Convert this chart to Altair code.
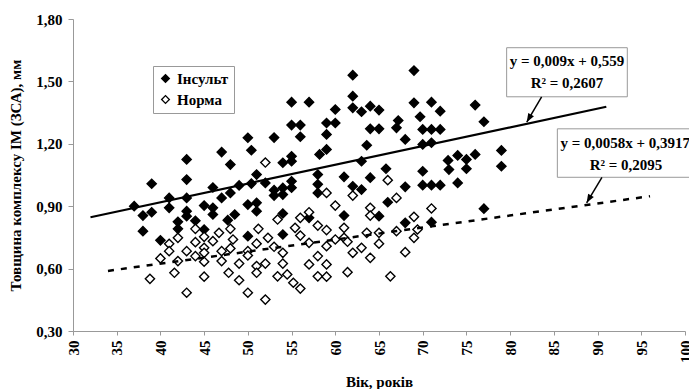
import altair as alt
import pandas as pd

# ---- data ----
insult_age = [55, 57, 55, 56, 56, 50, 53, 50.4, 47, 43, 48, 55, 55, 54, 51, 43, 39, 46, 49, 50.4,
              52, 55, 55, 53, 53, 54, 54, 58, 58, 58, 58.2, 47, 48, 41, 43,
              62, 69, 62, 62, 63, 64, 65, 60, 59, 60, 59, 64, 65, 67.2, 67, 69, 71, 72, 69.7,
              70, 71, 72, 76, 77, 68, 63.6, 70, 71, 59, 63, 65.8, 70, 72.9, 74, 75, 76, 73, 75,
              79, 79, 74, 70, 71, 72, 68, 64, 61, 62, 63,
              37, 38, 39, 38, 41, 43, 43, 42, 42, 40, 44, 45, 46, 46, 47.7, 48.5, 45, 50, 51, 51,
              50, 54, 54, 57,
              61, 65, 66, 68, 71, 77]
insult_val = [1.40, 1.40, 1.29, 1.29, 1.234, 1.229, 1.23, 1.169, 1.16, 1.125, 1.10, 1.14, 1.116, 1.109,
              1.052, 1.028, 1.008, 0.99, 1.0, 1.009, 1.012, 1.02, 0.989, 0.977, 0.951, 0.988, 0.956,
              1.052, 1.005, 0.964, 1.149, 0.94, 0.964, 0.94, 0.94,
              1.53, 1.552, 1.429, 1.373, 1.354, 1.381, 1.362, 1.365, 1.30, 1.30, 1.245, 1.272, 1.272,
              1.312, 1.277, 1.397, 1.40, 1.357, 1.33, 1.269, 1.269, 1.269, 1.386, 1.306, 1.221, 1.193,
              1.197, 1.205, 1.173, 1.116, 1.08, 1.068, 1.12, 1.144, 1.125, 1.149, 1.076, 1.08,
              1.168, 1.092, 1.012, 1.001, 1.001, 1.001, 0.993, 1.037, 1.041, 0.996, 0.98,
              0.90, 0.855, 0.871, 0.78, 0.892, 0.876, 0.852, 0.825, 0.791, 0.736, 0.83, 0.903, 0.892,
              0.86, 0.833, 0.86, 0.788, 0.908, 0.916, 0.876, 0.756, 0.865, 0.764, 0.844,
              0.855, 0.852, 0.919, 0.82, 0.823, 0.888]

norma_age = [52, 59, 62, 66, 67,
             38.8, 40, 41, 41, 42, 42, 41.6, 43, 43, 44, 44, 44, 45, 45, 45, 45, 45, 46, 46.7,
             47, 47, 47.8, 48, 48.3, 48, 49, 49, 50, 50, 50, 51.2, 51, 51, 51, 52, 52, 52.3, 53,
             53.4, 53.4, 54, 54, 54.5, 55.2, 56, 55.4, 56, 56, 57, 57, 57, 58, 58, 58,
             59, 60, 61, 61, 60, 59, 59, 59, 61.4, 62, 61.4, 63, 64, 63.6, 64, 64, 65, 65,
             66.3, 67, 68, 69, 69, 69.4, 71]
norma_val = [1.11, 0.964, 0.951, 1.025, 0.94,
             0.551, 0.649, 0.719, 0.684, 0.748, 0.636, 0.58, 0.684, 0.484, 0.791, 0.727, 0.66,
             0.753, 0.70, 0.676, 0.633, 0.561, 0.732, 0.772, 0.684, 0.636, 0.58, 0.791, 0.74,
             0.697, 0.624, 0.544, 0.684, 0.663, 0.484, 0.791, 0.72, 0.612, 0.58, 0.624, 0.451,
             0.748, 0.705, 0.836, 0.563, 0.676, 0.624, 0.572, 0.532, 0.504, 0.796, 0.759, 0.844,
             0.871, 0.724, 0.62, 0.807, 0.66, 0.563,
             0.785, 0.903, 0.796, 0.748, 0.74, 0.708, 0.62, 0.561, 0.729, 0.676, 0.583, 0.70,
             0.652, 0.772, 0.892, 0.855, 0.772, 0.72, 0.563, 0.78, 0.679, 0.849, 0.748, 0.788,
             0.889]

series_names = ["Інсульт", "Норма"]

# trend line end points
solid_x = [32, 91]
solid_y = [0.847, 1.378]
dash_x = [34, 96]
dash_y = [0.589, 0.948]

# annotation boxes (data coordinates)
box_x1 = [79.6, 85.4]
box_x2 = [93.4, 102.5]
box_y1 = [1.662, 1.272]
box_y2 = [1.426, 1.039]
eq_text = ["y = 0,009x + 0,559", "R² = 0,2607", "y = 0,0058x + 0,3917", "R² = 0,2095"]
eq_x = [86.5, 86.5, 85.75, 93.25]
eq_y = [1.596, 1.492, 1.206, 1.100]
eq_align = ["center", "center", "left", "center"]
arrow_x1 = [83.6, 90.5]
arrow_y1 = [1.426, 1.039]
arrow_x2 = [81.9, 88.75]
arrow_y2 = [1.304, 0.916]

x_ticks = list(range(30, 101, 5))
y_ticks = [0.3, 0.6, 0.9, 1.2, 1.5, 1.8]

FONT = "Liberation Serif"
FS = 15

pts = pd.DataFrame({
    "age": insult_age + norma_age,
    "val": insult_val + norma_val,
    "series": [series_names[0]] * len(insult_age) + [series_names[1]] * len(norma_age),
})
lines = pd.DataFrame({
    "age": solid_x + dash_x,
    "val": solid_y + dash_y,
    "kind": ["solid"] * 2 + ["dash"] * 2,
})
boxes = pd.DataFrame({"x1": box_x1, "x2": box_x2, "y1": box_y1, "y2": box_y2})
texts = pd.DataFrame({"age": eq_x, "val": eq_y, "t": eq_text, "al": eq_align})
arrows = pd.DataFrame({"age": arrow_x1, "val": arrow_y1, "ax": arrow_x2, "ay": arrow_y2})

xs = alt.Scale(domain=[30, 100], nice=False, zero=False)
ys = alt.Scale(domain=[0.3, 1.8], nice=False, zero=False)

x_axis = alt.Axis(values=x_ticks, labelAngle=270, tickSize=4, labelPadding=5, grid=False,
                  domainColor="#999999", tickColor="#999999", labelFont=FONT, labelFontSize=FS,
                  labelFontWeight="bold", labelColor="black", title="Вік, років",
                  titleFont=FONT, titleFontSize=FS, titleFontWeight="bold", titleColor="black",
                  titleY=50, titleBaseline="middle")
y_axis = alt.Axis(values=y_ticks, labelExpr="replace(format(datum.value, '.2f'), '.', ',')",
                  tickSize=5, labelPadding=6, grid=False,
                  domainColor="#999999", tickColor="#999999", labelFont=FONT, labelFontSize=FS,
                  labelFontWeight="bold", labelColor="black",
                  title="Товщина комплексу ІМ (ЗСА), мм", titleFont=FONT, titleFontSize=FS,
                  titleFontWeight="bold", titleColor="black", titleX=-58, titleY=156,
                  titleAngle=270, titleBaseline="middle", titleAlign="center")

X = alt.X("age:Q", scale=xs, axis=x_axis)
Y = alt.Y("val:Q", scale=ys, axis=y_axis)

points = alt.Chart(pts).mark_point(shape="diamond", filled=True, stroke="black",
                                   strokeWidth=1.4, size=85, opacity=1).encode(
    x=X, y=Y,
    fill=alt.Fill("series:N", scale=alt.Scale(domain=series_names, range=["black", "white"]),
                  legend=alt.Legend(title=None, orient="none", legendX=80, legendY=47,
                                    strokeColor="#999999", fillColor="white", padding=5,
                                    labelFont=FONT, labelFontSize=FS, labelFontWeight="bold",
                                    labelColor="black", symbolType="diamond", symbolSize=60,
                                    symbolStrokeColor="black", symbolStrokeWidth=1.3,
                                    rowPadding=5, labelOffset=4)),
    order=alt.Order("series:N"),
)

solid = alt.Chart(lines).transform_filter(alt.datum.kind == "solid").mark_line(
    color="black", strokeWidth=2.2).encode(x=X, y=Y)
dash = alt.Chart(lines).transform_filter(alt.datum.kind == "dash").mark_line(
    color="black", strokeWidth=2.5, strokeDash=[6, 7]).encode(x=X, y=Y)

rects = alt.Chart(boxes).mark_rect(fill="white", stroke="#999999", strokeWidth=1).encode(
    x=alt.X("x1:Q", scale=xs, axis=x_axis), x2="x2:Q",
    y=alt.Y("y1:Q", scale=ys, axis=y_axis), y2="y2:Q")

labels_l = alt.Chart(texts).transform_filter(alt.datum.al == "left").mark_text(
    font=FONT, fontSize=FS, fontWeight="bold", color="black", align="left",
    baseline="middle").encode(x=X, y=Y, text="t:N")
labels_c = alt.Chart(texts).transform_filter(alt.datum.al == "center").mark_text(
    font=FONT, fontSize=FS, fontWeight="bold", color="black", align="center",
    baseline="middle").encode(x=X, y=Y, text="t:N")

arrow_lines = alt.Chart(arrows).mark_rule(color="black", strokeWidth=1.5).encode(
    x=X, y=Y, x2="ax:Q", y2="ay:Q")
arrow_heads = alt.Chart(arrows).mark_point(
    shape="M0,0L-0.38,1L0.38,1Z", filled=True, color="black", size=300, angle=210,
    opacity=1).encode(x=alt.X("ax:Q", scale=xs, axis=x_axis), y=alt.Y("ay:Q", scale=ys, axis=y_axis))

chart = alt.layer(points, solid, dash, rects, labels_l, labels_c, arrow_lines, arrow_heads).properties(
    width=612, height=312,
    autosize=alt.AutoSizeParams(type="none"),
    padding={"left": 73, "top": 19, "right": 4, "bottom": 58},
    background="white",
).configure_view(stroke=None)

chart.save("out.html", embed_options={"renderer": "svg", "actions": False})
